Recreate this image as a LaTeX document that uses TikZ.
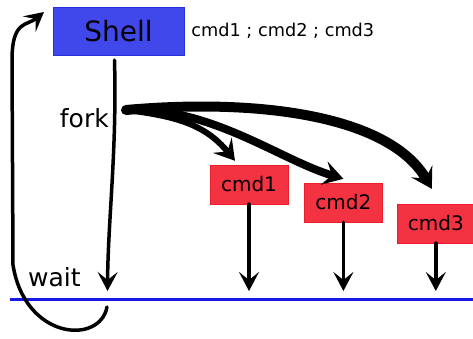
\documentclass[tikz,border=0pt]{standalone}
\usepackage{fontspec}
\setmainfont{DejaVu Sans}
\usetikzlibrary{
    arrows.meta,
    positioning,
}
\definecolor{shellblue}{RGB}{64,72,236}
\definecolor{shelledge}{RGB}{40,48,220}
\definecolor{cmdred}{RGB}{243,50,66}
\definecolor{cmdedge}{RGB}{236,30,44}
\definecolor{lineblue}{RGB}{24,24,232}
\tikzstyle{shellbox}=[draw=shelledge,fill=shellblue,rectangle,minimum width=131pt,minimum height=48pt,font=\fontsize{28}{30}\selectfont]
\tikzstyle{cmdbox}=[draw=cmdedge,fill=cmdred,rectangle,minimum width=78pt,minimum height=39pt,font=\fontsize{20}{22}\selectfont]
\tikzstyle{word}=[inner sep=0pt,font=\fontsize{25}{27}\selectfont]
\tikzstyle{stroke}=[line width=3.5pt,line cap=round,-{Stealth[length=19pt,width=20pt,inset=8pt]}]
\tikzstyle{fat}=[stroke,-{Stealth[length=20pt,width=24pt,inset=8pt]}]

\begin{document}
\begin{tikzpicture}[x=1pt,y=-1pt]
    \useasboundingbox (0,0) rectangle (473,338);
    \node[shellbox] (shell) at (118.5,31) {Shell};
    \node[inner sep=0pt,right=7pt of shell,font=\fontsize{17.7}{19}\selectfont] (line) {cmd1 ; cmd2 ; cmd3};
    \node[word,anchor=east] (fork) at (109,118) {fork};
    \node[word,anchor=west] (wait) at (28,277) {wait};
    \node[cmdbox] (cmd1) at (249,184.5) {cmd1};
    \node[cmdbox,right=16pt of cmd1,yshift=-18pt] (cmd2) {cmd2};
    \node[cmdbox,right=14pt of cmd2,yshift=-21pt] (cmd3) {cmd3};
    % time line
    \coordinate (lineL) at (10,299);
    \coordinate (lineR) at (473,299);
    \draw[lineblue,line width=3pt] (lineL) -- (lineR);
    % parent
    \coordinate (back) at (107,307);
    \coordinate (loopend) at (44,12);
    \draw[stroke] ([xshift=-4pt,yshift=-5pt]shell.south) .. controls (117,150) and (108,220) .. ([xshift=-11pt,yshift=8pt]shell.south |- lineL);
    \draw[stroke] (back) .. controls (100,345) and (25,340) .. (13,265)
        -- (12,60) .. controls (12,20) and (27,26) .. (loopend);
    % children
    \coordinate (split) at (126,110);
    \draw[fat,line width=6pt] (split) .. controls (175,116) and (205,124) .. ([xshift=-14pt,yshift=4pt]cmd1.north);
    \draw[fat,line width=8pt] (split) .. controls (210,106) and (280,160) .. ([yshift=4pt]cmd2.north);
    \draw[fat,line width=10pt] (split) .. controls (260,98) and (390,116) .. ([xshift=-4pt,yshift=15pt]cmd3.north);
    \foreach \c in {cmd1,cmd2,cmd3}
        \draw[stroke,shorten >=8pt] (\c.south) -- (\c.south |- lineL);
\end{tikzpicture}
\end{document}
